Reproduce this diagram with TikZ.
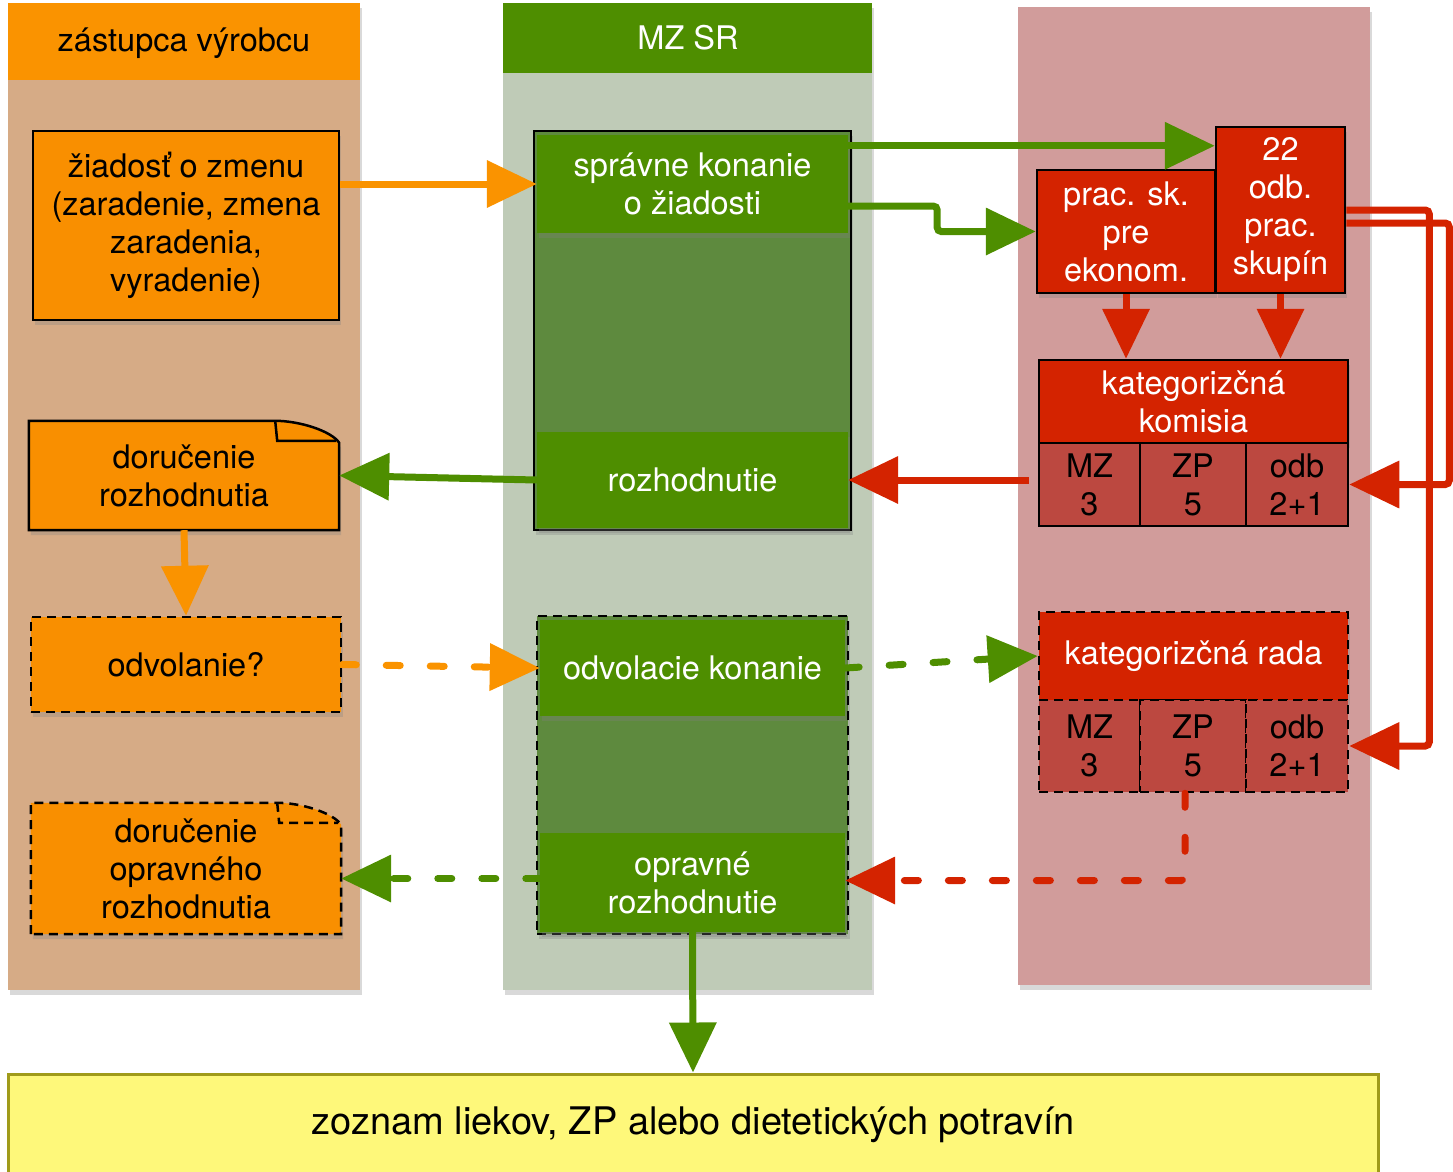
\documentclass[tikz,border=0pt]{standalone}
\usepackage{fontspec}
\setmainfont{TeX Gyre Heros}
\usetikzlibrary{arrows.meta,shadows}

\definecolor{laneorange}{HTML}{D6AB86}
\definecolor{headorange}{HTML}{FA9300}
\definecolor{boxorange}{HTML}{F98F00}
\definecolor{lanegreen}{HTML}{BFCBB7}
\definecolor{boxgreen}{HTML}{4E8E00}
\definecolor{dimgreen}{HTML}{5E8A3E}
\definecolor{lanered}{HTML}{D19C9B}
\definecolor{boxred}{HTML}{D42300}
\definecolor{cellred}{HTML}{BC4840}
\definecolor{listyellow}{HTML}{FEF87A}
\definecolor{listborder}{HTML}{A09B1A}

\tikzset{
	boxshadow/.style={drop shadow={shadow xshift=2pt, shadow yshift=-5pt, opacity=.3}},
	flowbox/.style={rectangle, inner sep=0pt, line width=2.5pt, draw=black, align=center,
		font=\fontsize{32.5}{38}\selectfont, boxshadow},
	dashbox/.style={flowbox, dash pattern=on 9pt off 6pt},
	greenpart/.style={rectangle, inner sep=0pt, fill=boxgreen, text=white, align=center,
		font=\fontsize{32.5}{38}\selectfont, boxshadow},
	cellbox/.style={rectangle, inner sep=0pt, line width=2.5pt, draw=black, fill=cellred,
		text=black, align=center, font=\fontsize{32.5}{38}\selectfont},
	headtext/.style={font=\fontsize{32.5}{38}\selectfont},
	flow/.style={line width=7pt, -{Triangle[length=50pt,width=46pt]}},
	dflow/.style={flow, line cap=round, dash pattern=on 14pt off 30pt},
}

\begin{document}
\begin{tikzpicture}[x=1pt, y=-1pt]
	\useasboundingbox (0,0) rectangle (1453,1171);

	% lanes
	\fill[laneorange, boxshadow] (8,3) rectangle (360,990);
	\fill[headorange] (8,3) rectangle (360,80);
	\node[headtext, text=black] (hZast) at (184,43) {zástupca výrobcu};

	\fill[lanegreen, boxshadow] (503,3) rectangle (872,990);
	\fill[boxgreen] (503,3) rectangle (872,73);
	\node[headtext, text=white] (hMZ) at (688,38) {MZ SR};

	\fill[lanered, boxshadow] (1018,7) rectangle (1370,985);

	% zastupca vyrobcu
	\node[flowbox, fill=boxorange, minimum width=306pt, minimum height=189pt] (zia) at (186,225.5)
		{žiadosť o zmenu\\(zaradenie, zmena\\zaradenia,\\vyradenie)};

	\node[rectangle, minimum width=310pt, minimum height=109pt, align=center,
		font=\fontsize{32.5}{38}\selectfont] (dor) at (184,475.5) {};
	\path[fill=boxorange, draw=black, line width=2.5pt, boxshadow]
		(dor.south west) -- (dor.north west) -- ([xshift=-64pt]dor.north east)
		.. controls ([xshift=-40pt]dor.north east) and ([xshift=-8pt,yshift=-10pt]dor.north east) .. ([yshift=-22pt]dor.north east)
		-- (dor.south east) -- cycle;
	\draw[line width=2.5pt] ([xshift=-64pt]dor.north east) -- ([xshift=-62pt,yshift=-20pt]dor.north east)
		-- ([xshift=-3pt,yshift=-20pt]dor.north east);
	\node[align=center, font=\fontsize{32.5}{38}\selectfont] at (dor) {doručenie\\rozhodnutia};

	\node[dashbox, fill=boxorange, minimum width=310pt, minimum height=95pt] (odv) at (186,664.5) {odvolanie?};

	\node[rectangle, minimum width=310pt, minimum height=131pt] (dop) at (186,868.5) {};
	\path[fill=boxorange, draw=black, line width=2.5pt, dash pattern=on 9pt off 6pt, boxshadow]
		(dop.south west) -- (dop.north west) -- ([xshift=-64pt]dop.north east)
		.. controls ([xshift=-40pt]dop.north east) and ([xshift=-8pt,yshift=-10pt]dop.north east) .. ([yshift=-22pt]dop.north east)
		-- (dop.south east) -- cycle;
	\draw[line width=2.5pt, dash pattern=on 9pt off 6pt] ([xshift=-64pt]dop.north east)
		-- ([xshift=-62pt,yshift=-20pt]dop.north east) -- ([xshift=-3pt,yshift=-20pt]dop.north east);
	\node[align=center, font=\fontsize{32.5}{38}\selectfont] at (dop) {doručenie\\opravného\\rozhodnutia};

	% MZ SR
	\node[flowbox, fill=dimgreen, minimum width=317pt, minimum height=399pt] (sprOut) at (692.5,330.5) {};
	\node[greenpart, minimum width=311pt, minimum height=98pt] (sprTop) at (692.5,184) {správne konanie\\o žiadosti};
	\node[greenpart, minimum width=311pt, minimum height=96pt] (rozh) at (692.5,480) {rozhodnutie};

	\node[dashbox, fill=dimgreen, minimum width=311pt, minimum height=318pt] (odvOut) at (692.5,775) {};
	\node[greenpart, minimum width=305pt, minimum height=96pt] (odvk) at (692.5,668) {odvolacie konanie};
	\node[greenpart, minimum width=305pt, minimum height=99pt] (opr) at (692.5,882.5) {opravné\\rozhodnutie};

	% kategorizacia
	\node[flowbox, fill=boxred, text=white, minimum width=178pt, minimum height=123pt] (pracsk) at (1126,231.5)
		{prac. sk.\\pre\\ekonom.};
	\node[flowbox, fill=boxred, text=white, minimum width=129pt, minimum height=166pt] (odb22) at (1280.5,210)
		{22\\odb.\\prac.\\skupín};

	\node[flowbox, fill=boxred, text=white, minimum width=309pt, minimum height=83pt] (kom) at (1193.5,401.5)
		{kategorizčná\\komisia};
	\node[cellbox, minimum width=101pt, minimum height=83pt] (kMZ) at (1089.5,484.5) {MZ\\3};
	\node[cellbox, minimum width=106pt, minimum height=83pt] (kZP) at (1193,484.5) {ZP\\5};
	\node[cellbox, minimum width=102pt, minimum height=83pt] (kOdb) at (1297,484.5) {odb\\2+1};

	\node[dashbox, fill=boxred, text=white, minimum width=309pt, minimum height=88pt] (radaH) at (1193.5,656)
		{kategorizčná rada};
	\node[cellbox, dash pattern=on 9pt off 6pt, minimum width=101pt, minimum height=92pt] (rMZ) at (1089.5,746) {MZ\\3};
	\node[cellbox, dash pattern=on 9pt off 6pt, minimum width=106pt, minimum height=92pt] (rZP) at (1193,746) {ZP\\5};
	\node[cellbox, dash pattern=on 9pt off 6pt, minimum width=102pt, minimum height=92pt] (rOdb) at (1297,746) {odb\\2+1};

	% zoznam
	\node[rectangle, fill=listyellow, draw=listborder, line width=3pt, minimum width=1370pt, minimum height=101pt,
		font=\fontsize{38}{44}\selectfont, boxshadow] (zoz) at (693,1124.5) {zoznam liekov, ZP alebo dietetických potravín};

	% flows
	\coordinate (odbIn) at ([yshift=-20pt]odb22.north west);
	\draw[flow, headorange] (zia.east |- sprTop.west) -- (sprTop.west);
	\draw[flow, boxgreen] (sprTop.east |- odbIn) -- (odbIn);
	\draw[flow, boxgreen, rounded corners=4pt] ([yshift=-22pt]sprTop.east) -- ++(89,0) |- (pracsk.west);
	\draw[flow, boxred] (pracsk.south) -- (pracsk.south |- kom.north);
	\draw[flow, boxred] (odb22.south) -- (odb22.south |- kom.north);
	\draw[flow, boxred, rounded corners=4pt] (odb22.east) -- ++(83,0) |- (rOdb.east);
	\draw[flow, boxred, rounded corners=4pt] ([yshift=-13pt]odb22.east) -- ++(103,0) |- (kOdb.east);
	\draw[flow, boxred, shorten <=9pt] (kMZ.west |- rozh.east) -- (rozh.east);
	\draw[flow, boxgreen] (rozh.west) -- (dor.east);
	\draw[flow, headorange] (dor.south) -- (odv.north);

	\draw[dflow, headorange] (odv.east) -- (odvk.west);
	\draw[dflow, boxgreen] (odvk.east) -- (radaH.west);
	\draw[dflow, boxgreen] ([yshift=4pt]opr.west) -- ([yshift=4pt]dop.east |- opr.west);
	\draw[dflow, boxred, rounded corners=4pt] ([xshift=-8pt]rZP.south) |- ([yshift=2pt]opr.east);
	\draw[flow, boxgreen] (opr.south) -- (zoz.north);
\end{tikzpicture}
\end{document}
